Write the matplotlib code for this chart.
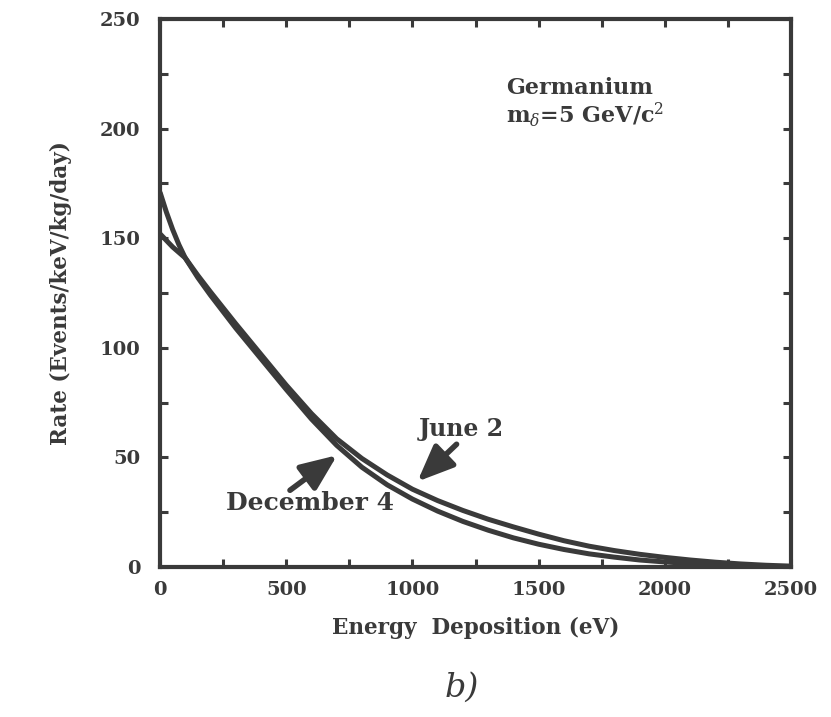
import matplotlib
matplotlib.use("Agg")
import matplotlib.pyplot as plt
from matplotlib.ticker import MultipleLocator

# ---- data ----
energy = [0, 25, 50, 75, 100, 150, 200, 300, 400, 500, 600, 700, 800, 900, 1000,
          1100, 1200, 1300, 1400, 1500, 1600, 1700, 1800, 1900, 2000, 2100,
          2200, 2300, 2400, 2500]
rate_dec4 = [171, 162, 154, 147, 141, 132, 124, 109, 95, 81, 67.5, 55.5, 45.5, 37.5, 31,
             25.5, 20.8, 16.8, 13.3, 10.4, 8, 6, 4.5, 3.2, 2.3, 1.6,
             1.0, 0.6, 0.3, 0.1]
rate_jun2 = [152, 149, 146, 143.5, 141, 133, 125.5, 111, 97, 83, 70, 58.5, 49.5, 42, 35.5,
             30.3, 25.8, 21.8, 18.3, 15, 12, 9.5, 7.5, 5.8, 4.4, 3.2,
             2.2, 1.4, 0.8, 0.4]

x_major = [0, 500, 1000, 1500, 2000, 2500]
x_labels = ["0", "500", "1000", "1500", "2000", "2500"]
y_major = [0, 50, 100, 150, 200, 250]
y_labels = ["0", "50", "100", "150", "200", "250"]

ink = "#3a3a3a"
serif = ["DejaVu Serif"]
plt.rcParams["mathtext.fontset"] = "dejavuserif"

W, H = 831, 717
fig = plt.figure(figsize=(W / 100, H / 100), dpi=100)
left, right, top, bottom = 160, 791, 19, 567
ax = fig.add_axes([left / W, 1 - bottom / H, (right - left) / W, (bottom - top) / H])

ax.plot(energy, rate_dec4, color=ink, lw=3.6, solid_capstyle="butt")
ax.plot(energy, rate_jun2, color=ink, lw=3.6, solid_capstyle="butt")

ax.set_xlim(0, 2500)
ax.set_ylim(0, 250)
ax.set_xticks(x_major)
ax.set_xticklabels(x_labels)
ax.set_yticks(y_major)
ax.set_yticklabels(y_labels)
ax.xaxis.set_minor_locator(MultipleLocator(250))
ax.yaxis.set_minor_locator(MultipleLocator(25))
for which in ("major", "minor"):
    ax.tick_params(axis="both", which=which, direction="in", length=6, width=2.2,
                   color=ink, top=True, right=True)
ax.tick_params(axis="x", which="major", pad=10)
ax.tick_params(axis="y", which="major", pad=14)
for lab in ax.get_xticklabels() + ax.get_yticklabels():
    lab.set_fontfamily(serif)
    lab.set_fontweight("bold")
    lab.set_fontsize(14)
    lab.set_color(ink)
for sp in ax.spines.values():
    sp.set_linewidth(3.0)
    sp.set_color(ink)

ax.set_xlabel("Energy  Deposition (eV)", fontsize=15.5, fontweight="bold",
              family=serif, color=ink, labelpad=13)
ax.set_ylabel("Rate (Events/keV/kg/day)", fontsize=15.5, fontweight="bold",
              family=serif, color=ink, labelpad=20)

ax.text(1370, 218.5, "Germanium", fontsize=16, fontweight="bold", family=serif,
        color=ink, ha="left", va="center")
ax.text(1370, 206.5, r"m$_\delta$=5 GeV/c$^2$", fontsize=16, fontweight="bold",
        family=serif, color=ink, ha="left", va="center")

arrow = dict(arrowstyle="-|>,head_length=1.0,head_width=0.42", lw=4, color=ink,
             shrinkA=0, shrinkB=0, mutation_scale=22)
ax.annotate("", xy=(1020, 39), xytext=(1175, 56), arrowprops=arrow)
ax.annotate("", xy=(702, 51), xytext=(515, 35), arrowprops=arrow)
ax.text(1195, 63, "June 2", fontsize=17, fontweight="bold", family=serif,
        color=ink, ha="center", va="center")
ax.text(595, 29, "December 4", fontsize=18, fontweight="bold", family=serif,
        color=ink, ha="center", va="center")

fig.text(462 / W, 1 - 688 / H, "b)", fontsize=24, style="italic", family=serif,
         color=ink, ha="center", va="center")

fig.savefig("out.png", dpi=100, facecolor="white")
